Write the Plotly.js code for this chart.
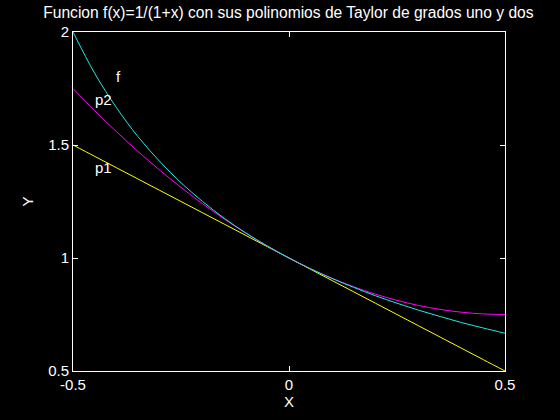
<!DOCTYPE html>
<html><head><meta charset="utf-8">
<script src="https://cdn.plot.ly/plotly-3.0.1.min.js"></script>
<style>html,body{margin:0;padding:0;background:#000;}</style>
</head><body><div id="chart" style="width:560px;height:420px;"></div>
<script>
const xValues = [-0.5,-0.45,-0.4,-0.35,-0.3,-0.25,-0.2,-0.15,-0.1,-0.05,0,0.05,0.1,0.15,0.2,0.25,0.3,0.35,0.4,0.45,0.5];
const fValues = [2,1.818,1.667,1.538,1.429,1.333,1.25,1.176,1.111,1.053,1,0.952,0.909,0.870,0.833,0.8,0.769,0.741,0.714,0.690,0.667];
const p2Values = [1.75,1.6525,1.56,1.4725,1.39,1.3125,1.24,1.1725,1.11,1.0525,1,0.9525,0.91,0.8725,0.84,0.8125,0.79,0.7725,0.76,0.7525,0.75];
const p1Values = [1.5,1.45,1.4,1.35,1.3,1.25,1.2,1.15,1.1,1.05,1,0.95,0.9,0.85,0.8,0.75,0.7,0.65,0.6,0.55,0.5];
const curveLabels = ["f","p2","p1"];
const labelX = [-0.395,-0.43,-0.43];
const labelY = [1.805,1.70,1.40];
const xTicks = [-0.5,0,0.5];
const yTicks = [0.5,1,1.5,2];

const font = {family:"Liberation Sans, Arial, sans-serif", color:"#ffffff", size:15};
const titleFont = {family:"Liberation Sans, Arial, sans-serif", color:"#ffffff", size:15.6};
const traces = [
  {x:xValues, y:p1Values, mode:"lines", line:{color:"#ffff00", width:1, shape:"spline"}},
  {x:xValues, y:p2Values, mode:"lines", line:{color:"#ff00ff", width:1, shape:"spline"}},
  {x:xValues, y:fValues, mode:"lines", line:{color:"#20e8e0", width:1, shape:"spline"}}
];
const annotations = curveLabels.map((t,i)=>({x:labelX[i], y:labelY[i], text:t, showarrow:false, font:font, xanchor:"center", yanchor:"middle"}));
const axisCommon = {showgrid:false, zeroline:false, showline:true, linecolor:"#ffffff", linewidth:1, mirror:"ticks",
  ticks:"inside", ticklen:5, tickcolor:"#ffffff", tickfont:font};
const layout = {
  width:560, height:420, paper_bgcolor:"#000000", plot_bgcolor:"#000000",
  margin:{l:73, r:55, t:32, b:49},
  showlegend:false,
  title:{text:"Funcion f(x)=1/(1+x) con sus polinomios de Taylor de grados uno y dos", font:titleFont, x:0.515, xanchor:"center", y:0.969, yanchor:"middle"},
  xaxis:Object.assign({}, axisCommon, {range:[-0.5,0.5], tickvals:xTicks, ticktext:["-0.5","0","0.5"], title:{text:"X", font:font, standoff:2}}),
  yaxis:Object.assign({}, axisCommon, {range:[0.5,2], tickvals:yTicks, ticktext:["0.5","1","1.5","2"], title:{text:"Y", font:font, standoff:10}}),
  annotations:annotations
};
Plotly.newPlot("chart", traces, layout, {displayModeBar:false, staticPlot:true});
</script></body></html>
